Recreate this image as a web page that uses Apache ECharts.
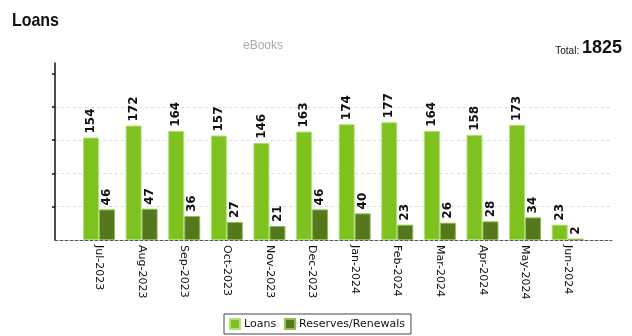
<!DOCTYPE html>
<html><head><meta charset="utf-8">
<script src="https://cdn.jsdelivr.net/npm/echarts@6/dist/echarts.min.js"></script>
<style>html,body{margin:0;padding:0;background:#fff}#c{width:632px;height:336px}</style>
</head><body><div id="c"></div>
<script>
const categories = ['Jul-2023','Aug-2023','Sep-2023','Oct-2023','Nov-2023','Dec-2023','Jan-2024','Feb-2024','Mar-2024','Apr-2024','May-2024','Jun-2024'];
const loans = [154,172,164,157,146,163,174,177,164,158,173,23];
const reserves = [46,47,36,27,21,46,40,23,26,28,34,2];
const gridTicks = [0,50,100,150,200,250];
const totalValue = 1825;

const chart = echarts.init(document.getElementById('c'), null, {renderer:'canvas'});
const yMax = 266;
const labelStyle = {show:true, position:'top', rotate:90, align:'left', verticalAlign:'middle', distance:4,
  fontFamily:'DejaVu Sans', fontSize:12, fontWeight:'bold', color:'#111'};
chart.setOption({
  animation:false,
  graphic:[
    {type:'text', left:12, top:11, scaleX:0.84, style:{text:'Loans', font:'bold 19px "Liberation Sans"', fill:'#111'}}
  ],
  title:[
    {text:'eBooks', left:258, top:35, textAlign:'center', textStyle:{fontFamily:'Liberation Sans', fontWeight:'normal', fontSize:12, color:'#a8a8a8'}},
    {text:'{a|Total: }{b|' + totalValue + '}', right:5, top:34, textStyle:{rich:{
      a:{fontFamily:'Liberation Sans', fontWeight:'normal', fontSize:10, color:'#111', verticalAlign:'bottom', padding:[0,0,1,0]},
      b:{fontFamily:'Liberation Sans', fontWeight:'bold', fontSize:18, color:'#111'}}}}
  ],
  legend:{left:224, top:314, data:['Loans','Reserves/Renewals'], icon:'rect', itemWidth:10, itemHeight:10, itemGap:8,
    borderColor:'#444', borderWidth:1, padding:[4,6,4,5], borderRadius:0,
    textStyle:{fontFamily:'DejaVu Sans', fontSize:11, color:'#111', padding:[0,0,0,-1]}},
  grid:[
    {left:55, right:20, top:63, bottom:96},
    {left:77.7, right:43, top:63, bottom:96}
  ],
  xAxis:[
    {gridIndex:0, type:'value', min:0, max:1, axisLine:{show:true, lineStyle:{color:'#555', type:[3,2], width:1}},
      axisTick:{show:false}, axisLabel:{show:false}, splitLine:{show:false}},
    {gridIndex:1, type:'category', data:categories, axisLine:{show:false}, axisTick:{show:false},
      axisLabel:{rotate:-90, margin:5, fontFamily:'DejaVu Sans', fontSize:11, color:'#111', interval:0}}
  ],
  yAxis:[
    {gridIndex:0, type:'value', min:0, max:yMax, interval:50,
      axisLine:{show:true, lineStyle:{color:'#111', width:1.5}},
      axisTick:{show:true, inside:false, length:3, customValues:gridTicks.slice(1), lineStyle:{color:'#111', width:1.5}},
      axisLabel:{show:false},
      splitLine:{show:true, showMaxLine:false, lineStyle:{color:'#dcdcdc', type:[3,3]}}},
    {gridIndex:1, type:'value', min:0, max:yMax, show:false}
  ],
  series:[
    {name:'Loans', type:'bar', xAxisIndex:1, yAxisIndex:1, data:loans, barWidth:16, barGap:'0%',
      itemStyle:{color:'#7dc21e', borderColor:'#b3e07a', borderWidth:1}, label:labelStyle},
    {name:'Reserves/Renewals', type:'bar', xAxisIndex:1, yAxisIndex:1, data:reserves, barWidth:16, barGap:'0%',
      itemStyle:{color:'#55771e', borderColor:'#8fbf4a', borderWidth:1}, label:labelStyle}
  ]
});
</script></body></html>
